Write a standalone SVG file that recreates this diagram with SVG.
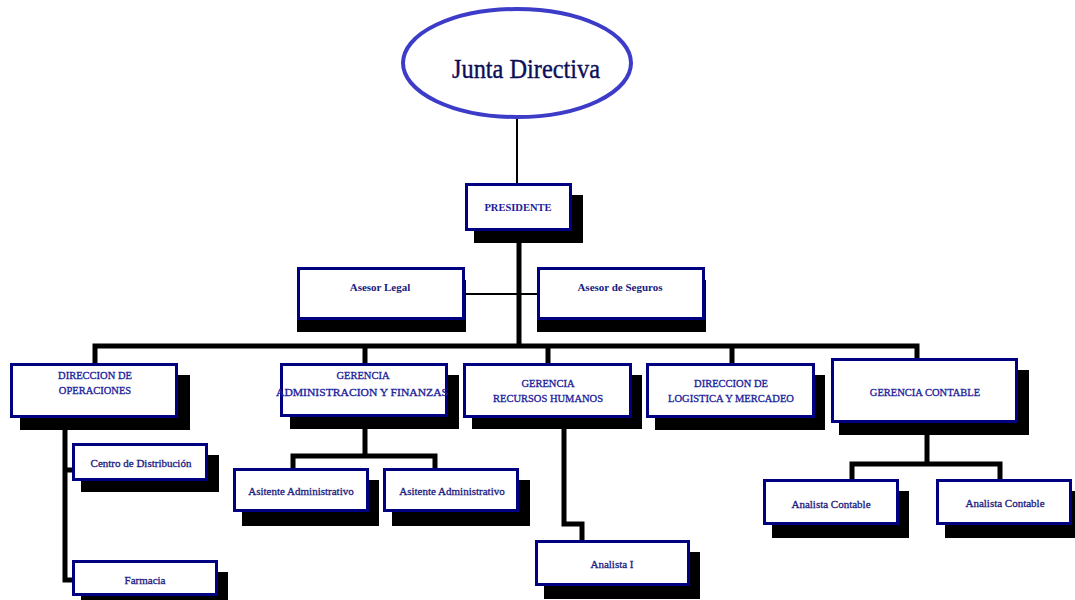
<svg xmlns="http://www.w3.org/2000/svg" width="1075" height="600" viewBox="0 0 1075 600">
<style>
.sh{fill:#000}
.bx{fill:#fff;stroke:#000080;stroke-width:3}
.t{font-family:"Liberation Serif","Times New Roman",serif;font-size:11px;fill:#1a1a80;stroke:#1a1a80;stroke-width:0.3;text-anchor:middle}
.u{font-size:10.5px;fill:#20209a;stroke:#20209a}
.b{font-weight:bold;stroke-width:0}
.thick{fill:none;stroke:#000;stroke-width:5}
.thin{fill:none;stroke:#000;stroke-width:2}
</style>
<rect width="1075" height="600" fill="#fff"/>
<g id="connectors">
<line class="thin" x1="517" y1="118" x2="517" y2="183"/>
<line class="thick" x1="519" y1="231" x2="519" y2="348"/>
<line class="thin" x1="465" y1="294" x2="537" y2="294" stroke="#1a1a60"/>
<path class="thick" d="M95,363 V346 H917 V358"/>
<path class="thick" d="M365,346 V363 M548,346 V363 M732,346 V363"/>
<path class="thick" d="M65,418 V580 H72 M65,470 H72"/>
<path class="thick" d="M365,429 V456 M293,468 V456 H435 V468"/>
<path class="thick" d="M564,429 V524 H582 V540"/>
<path class="thick" d="M927,435 V464 M852,479 V464 H1000 V479"/>
</g>
<g id="junta">
<ellipse cx="517" cy="63" rx="114" ry="54" fill="#fff" stroke="#3c3cc8" stroke-width="4"/>
<text x="526" y="78" font-family="Liberation Serif,serif" font-size="28" fill="#0e0e58" stroke="#0e0e58" stroke-width="0.4" text-anchor="middle" textLength="148" lengthAdjust="spacingAndGlyphs">Junta Directiva</text>
</g>
<g id="presidente">
<rect class="sh" x="474" y="195" width="109" height="48"/>
<rect class="bx" x="466.5" y="184.5" width="104" height="45"/>
<text class="t u b" x="518" y="211">PRESIDENTE</text>
</g>
<g id="asesor-legal">
<rect class="sh" x="297" y="280" width="169" height="52"/>
<rect class="bx" x="298.5" y="268.5" width="165" height="50"/>
<text class="t b" x="380" y="291">Asesor Legal</text>
</g>
<g id="asesor-seguros">
<rect class="sh" x="537" y="280" width="169" height="52"/>
<rect class="bx" x="538.5" y="268.5" width="165" height="50"/>
<text class="t b" x="620" y="291">Asesor de Seguros</text>
</g>
<g id="dir-operaciones">
<rect class="sh" x="20" y="375" width="170" height="55"/>
<rect class="bx" x="11.5" y="364.5" width="165" height="52"/>
<text class="t u" x="95" y="379">DIRECCION DE</text>
<text class="t u" x="95" y="394">OPERACIONES</text>
</g>
<g id="ger-admin">
<rect class="sh" x="290" y="375" width="169" height="54"/>
<rect class="bx" x="281.5" y="364.5" width="165" height="51"/>
<text class="t u" x="363" y="379">GERENCIA</text>
<text class="t u" x="362" y="396" textLength="172" lengthAdjust="spacingAndGlyphs">ADMINISTRACION Y FINANZAS</text>
</g>
<g id="ger-rrhh">
<rect class="sh" x="472" y="375" width="170" height="54"/>
<rect class="bx" x="464.5" y="364.5" width="166" height="52"/>
<text class="t u" x="548" y="387">GERENCIA</text>
<text class="t u" x="548" y="402">RECURSOS HUMANOS</text>
</g>
<g id="dir-logistica">
<rect class="sh" x="655" y="375" width="170" height="55"/>
<rect class="bx" x="647.5" y="364.5" width="166" height="52"/>
<text class="t u" x="731" y="387">DIRECCION DE</text>
<text class="t u" x="731" y="402">LOGISTICA Y MERCADEO</text>
</g>
<g id="ger-contable">
<rect class="sh" x="839" y="370" width="190" height="65"/>
<rect class="bx" x="832.5" y="359.5" width="184" height="62"/>
<text class="t u" x="925" y="396">GERENCIA CONTABLE</text>
</g>
<g id="centro-distribucion">
<rect class="sh" x="81" y="455" width="138" height="37"/>
<rect class="bx" x="73.5" y="444.5" width="133" height="35"/>
<text class="t" x="141" y="467">Centro de Distribución</text>
</g>
<g id="farmacia">
<rect class="sh" x="81" y="572" width="147" height="36"/>
<rect class="bx" x="73.5" y="561.5" width="143" height="33"/>
<text class="t" x="145" y="584">Farmacia</text>
</g>
<g id="asistente-1">
<rect class="sh" x="242" y="480" width="137" height="46"/>
<rect class="bx" x="234.5" y="469.5" width="133" height="41"/>
<text class="t" x="301" y="495">Asitente Administrativo</text>
</g>
<g id="asistente-2">
<rect class="sh" x="392" y="480" width="138" height="46"/>
<rect class="bx" x="384.5" y="469.5" width="133" height="41"/>
<text class="t" x="452" y="495">Asitente Administrativo</text>
</g>
<g id="analista-1">
<rect class="sh" x="544" y="552" width="156" height="47"/>
<rect class="bx" x="536.5" y="541.5" width="152" height="43"/>
<text class="t" x="612" y="568">Analista I</text>
</g>
<g id="analista-contable-1">
<rect class="sh" x="772" y="491" width="137" height="47"/>
<rect class="bx" x="764.5" y="480.5" width="133" height="43"/>
<text class="t" x="831" y="508">Analista Contable</text>
</g>
<g id="analista-contable-2">
<rect class="sh" x="945" y="491" width="135" height="47"/>
<rect class="bx" x="937.5" y="480.5" width="133" height="43"/>
<text class="t" x="1005" y="507">Analista Contable</text>
</g>
</svg>
